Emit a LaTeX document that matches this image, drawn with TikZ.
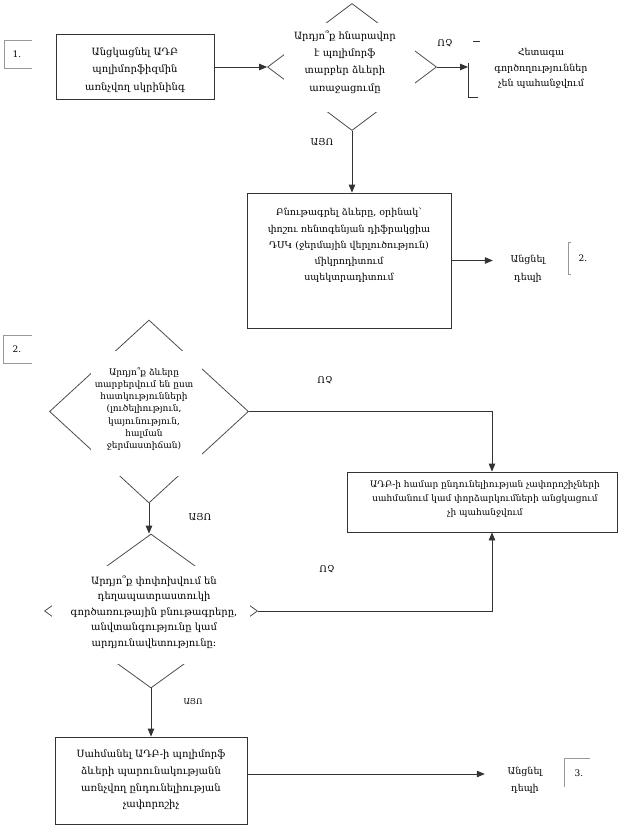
\documentclass[tikz,border=0pt]{standalone}
\usepackage{fontspec}
\setmainfont{DejaVu Serif}
\usepackage{tikz}
\usetikzlibrary{shapes.geometric, arrows.meta, positioning}

\tikzset{
  box/.style={draw=black!80, line width=0.8pt, inner sep=0pt},
  decision/.style={diamond, draw=black!70, line width=0.8pt, inner sep=0pt},
  txt/.style={align=center, inner sep=0pt, font=\fontsize{10}{17.3}\selectfont},
  arr/.style={draw=black!80, line width=0.8pt, -{Triangle[length=8pt,width=6.5pt]}},
  answer/.style={inner sep=0pt, font=\fontsize{9.5}{12}\selectfont},
  tagline/.style={draw=black!40, line width=0.6pt},
  tagtext/.style={inner sep=0pt, font=\fontsize{9}{11}\selectfont},
}

\begin{document}
\begin{tikzpicture}[x=1pt, y=-1pt]
        \useasboundingbox (0,0) rectangle (623,827);

        % part 1
        \draw[tagline] (32,40) -- (4,40) -- (4,68) -- (32,68);
        \node[tagtext] (tag1) at (17,54) {1.};

        \node[box, minimum width=158pt, minimum height=65pt] (screen) at (135,67) {};
        \node[txt] (screentxt) at (135,70) {Անցկացնել ԱԴԲ\\պոլիմորֆիզմին\\առնչվող սկրինինգ};

        \node[decision, minimum width=169pt, minimum height=127pt] (q1) at (352,67) {};
        \fill[white] (284,23) rectangle (415,112);
        \node[txt] (q1txt) at (345,62) {Արդյո՞ք հնարավոր\\է պոլիմորֆ\\տարբեր ձևերի\\առաջացումը};

        \draw[tagline, draw=black!80] (473,41) -- (480,41);
        \draw[tagline, draw=black!80] (468,63) -- (468,97) -- (478,97);
        \coordinate (donein) at (468,67);
        \node[txt, font=\fontsize{9.5}{15.5}\selectfont] (done) at (541,68.5) {Հետագա\\գործողություններ\\չեն պահանջվում};

        \node[box, minimum width=204pt, minimum height=135pt] (form) at (349,260.5) {};
        \node[txt, font=\fontsize{9.5}{16.2}\selectfont] (formtxt) at (349,245.5) {Բնութագրել ձևերը, օրինակ՝\\փոշու ռենտգենյան դիֆրակցիա\\ԴՍԿ (ջերմային վերլուծություն)\\միկրոդիտում\\սպեկտրադիտում};

        \node[txt, font=\fontsize{9.5}{18}\selectfont, minimum width=70pt] (goto2) at (528,269) {Անցնել\\դեպի};
        \draw[tagline] (571,242) -- (568,242) -- (568,274) -- (571,274);
        \node[tagtext] (tag2b) at (583,258) {2.};

        \draw[arr] (screen.east) -- (q1.west);
        \draw[arr] (q1.east) -- (donein);
        \node[answer] (no1) at (445,43) {ՈՉ};
        \draw[arr] (q1.south) -- (q1.south |- form.north);
        \node[answer] (yes1) at (322,142) {ԱՅՈ};
        \draw[arr] (form.east) -- (form.east -| goto2.west);

        % part 2
        \draw[tagline] (32,335) -- (3,335) -- (3,363) -- (32,363);
        \node[tagtext] (tag2) at (17,349) {2.};

        \node[decision, minimum width=199pt, minimum height=183pt] (q2) at (149,411.5) {};
        \fill[white] (91,351) rectangle (202,476);
        \node[txt, font=\fontsize{9}{12.3}\selectfont] (q2txt) at (144,409) {Արդյո՞ք ձևերը\\տարբերվում են ըստ\\հատկությունների\\(լուծելիություն,\\կայունություն,\\հալման\\ջերմաստիճան)};

        \node[box, minimum width=270pt, minimum height=60pt] (nr) at (482,502) {};
        \node[txt, font=\fontsize{9}{14}\selectfont] (nrtxt) at (485,499) {ԱԴԲ-ի համար ընդունելիության չափորոշիչների\\սահմանում կամ փորձարկումների անցկացում\\չի պահանջվում};

        \node[decision, minimum width=213pt, minimum height=154pt] (q3) at (151,611) {};
        \fill[white] (52,566) rectangle (250,664);
        \node[txt, font=\fontsize{10}{15.6}\selectfont] (q3txt) at (154,612) {Արդյո՞ք փոփոխվում են\\դեղապատրաստուկի\\գործառութային բնութագրերը,\\անվտանգությունը կամ\\արդյունավետությունը։};

        \node[box, minimum width=192pt, minimum height=87pt] (sizebox) at (151,780.5) {};
        \node[txt, font=\fontsize{10}{16.7}\selectfont] (sizetxt) at (151,780) {Սահմանել ԱԴԲ-ի պոլիմորֆ\\ձևերի պարունակությանն\\առնչվող ընդունելիության\\չափորոշիչ};

        \node[txt, font=\fontsize{9.5}{17}\selectfont, minimum width=80pt] (goto3) at (525,780.5) {Անցնել\\դեպի};
        \draw[tagline] (564,787) -- (564,758) -- (590,758);
        \node[tagtext] (tag3) at (579,773) {3.};

        \draw[arr] (q2.east) -| ([xshift=10pt]nr.north);
        \node[answer] (no2) at (325,380) {ՈՉ};
        \draw[arr] (q2.south) -- (q2.south |- q3.north);
        \node[answer] (yes2) at (200,517) {ԱՅՈ};
        \draw[arr] (q3.east) -| ([xshift=10pt]nr.south);
        \node[answer] (no3) at (327,569) {ՈՉ};
        \draw[arr] (q3.south) -- (sizebox.north);
        \node[answer, font=\fontsize{8}{10}\selectfont] (yes3) at (193,702) {ԱՅՈ};
        \coordinate (s3) at ([yshift=6.5pt]sizebox.east);
        \draw[arr] (s3) -- (s3 -| goto3.west);
    \end{tikzpicture}
\end{document}
